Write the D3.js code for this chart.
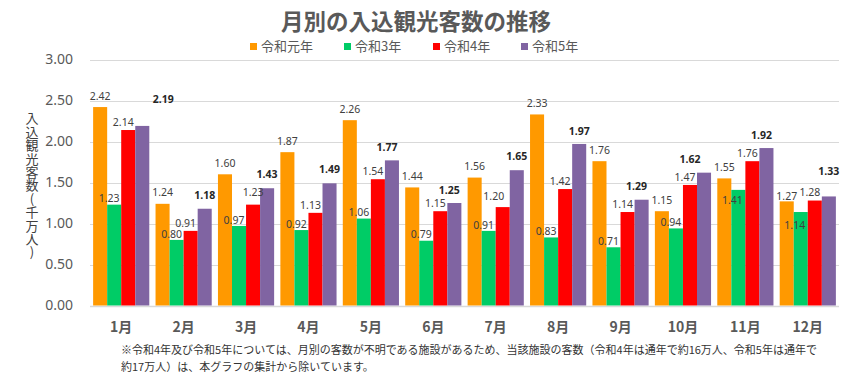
<!DOCTYPE html>
<html><head><meta charset="utf-8">
<script src="https://cdn.jsdelivr.net/npm/d3@7"></script>
<style>
body{margin:0;background:#fff;}
svg{display:block;font-family:"Noto Sans CJK JP","Noto Sans",sans-serif;}
</style></head>
<body>
<svg id="c" width="858" height="385"></svg>
<script>
const months = ["1月","2月","3月","4月","5月","6月","7月","8月","9月","10月","11月","12月"];
const seriesNames = ["令和元年","令和3年","令和4年","令和5年"];
const r1 = [2.42,1.24,1.60,1.87,2.26,1.44,1.56,2.33,1.76,1.15,1.55,1.27];
const r3 = [1.23,0.80,0.97,0.92,1.06,0.79,0.91,0.83,0.71,0.94,1.41,1.14];
const r4 = [2.14,0.91,1.23,1.13,1.54,1.15,1.20,1.42,1.14,1.47,1.76,1.28];
const r5 = [2.19,1.18,1.43,1.49,1.77,1.25,1.65,1.97,1.29,1.62,1.92,1.33];
const yTicks = [0,0.5,1,1.5,2,2.5,3];
const title = "月別の入込観光客数の推移";
const yTitle = "入込観光客数(千万人)";
const note1 = "※令和4年及び令和5年については、月別の客数が不明である施設があるため、当該施設の客数（令和4年は通年で約16万人、令和5年は通年で";
const note2 = "約17万人）は、本グラフの集計から除いています。";

const values = [r1,r3,r4,r5];
const colors = ["#FF9900","#00CC66","#FF0000","#8064A2"];

const svg = d3.select("#c");
const x = d3.scaleBand().domain(months).range([90,839]).paddingInner(0.1).paddingOuter(0.05);
const xs = d3.scaleBand().domain(d3.range(4)).range([0,x.bandwidth()]);
const y = d3.scaleLinear().domain([0,3]).range([305.5,59.5]);

// gridlines
svg.append("g").selectAll("line").data(yTicks).join("line")
  .attr("x1",90).attr("x2",839)
  .attr("y1",d=>Math.round(y(d))+0.5).attr("y2",d=>Math.round(y(d))+0.5)
  .attr("stroke","#D9D9D9").attr("stroke-width",d=>d===0?1.5:1);

// y tick labels
svg.append("g").selectAll("text").data(yTicks).join("text")
  .attr("x",73).attr("y",d=>y(d)).attr("dy","0.35em")
  .attr("text-anchor","end").attr("font-family","'Noto Sans',sans-serif")
  .attr("font-size",14).attr("fill","#595959").text(d=>d3.format(".2f")(d));

// bars
const groups = svg.append("g").selectAll("g").data(months).join("g")
  .attr("transform",m=>`translate(${x(m)},0)`);
groups.selectAll("rect").data((m,i)=>values.map((s,k)=>({k,v:s[i],i})))
  .join("rect")
  .attr("x",d=>xs(d.k)).attr("width",xs.bandwidth())
  .attr("y",d=>y(d.v)).attr("height",d=>y(0)-y(d.v))
  .attr("fill",d=>colors[d.k]);

// labels
const baseOff = [[0,-11],[-5,-6],[-5,-8],[-5,-13]];
const override = {"0-3":[21,-27],"10-1":[-6,10],"11-1":[-6,13.5],"11-0":[0,-5],"11-3":[0,-25],"9-3":[-14,-13],"2-2":[0,-12],"6-2":[-9,-11],"7-3":[0,-13],"6-3":[0,-14],"2-3":[0,-14],"3-3":[0,-14],"1-3":[0,-13]};
groups.selectAll("text").data((m,i)=>values.map((s,k)=>({k,v:s[i],i})))
  .join("text")
  .attr("x",d=>{const o=override[d.i+"-"+d.k]||baseOff[d.k];return xs(d.k)+xs.bandwidth()/2+o[0];})
  .attr("y",d=>{const o=override[d.i+"-"+d.k]||baseOff[d.k];return y(d.v)+o[1];})
  .attr("dy","0.35em").attr("text-anchor","middle")
  .attr("font-family","'Noto Sans',sans-serif").attr("font-size",10.5)
  .attr("font-weight",d=>d.k===3?"bold":"normal")
  .attr("fill",d=>d.k===3?"#262626":"#404040")
  .text(d=>d3.format(".2f")(d.v));

// x labels
svg.append("g").selectAll("text").data(months).join("text")
  .attr("x",m=>x(m)+x.bandwidth()/2).attr("y",327).attr("dy","0.35em")
  .attr("text-anchor","middle").attr("font-size",14).attr("font-weight","bold")
  .attr("fill","#595959").text(m=>m);

// title
svg.append("text").attr("x",416).attr("y",29.5).attr("text-anchor","middle")
  .attr("font-size",22.5).attr("font-weight","bold").attr("fill","#595959").text(title);

// legend
const legX = [250,344,433,521];
const leg = svg.append("g").selectAll("g").data(seriesNames).join("g")
  .attr("transform",(d,i)=>`translate(${legX[i]},0)`);
leg.append("rect").attr("x",0).attr("y",43).attr("width",7).attr("height",7).attr("fill",(d,i)=>colors[i]);
leg.append("text").attr("x",11).attr("y",51).attr("font-size",13).attr("fill","#595959").text(d=>d);

// y title (vertical text, one element)
svg.append("text").attr("x",32).attr("y",112)
  .style("writing-mode","vertical-rl").style("text-orientation","upright")
  .attr("font-size",13).attr("letter-spacing","0.4px").attr("fill","#404040").text(yTitle);

// footnote
svg.append("text").attr("x",121).attr("y",354).attr("font-size",11).attr("fill","#333").text(note1);
svg.append("text").attr("x",121).attr("y",371).attr("font-size",11).attr("fill","#333").text(note2);
</script>
</body></html>
